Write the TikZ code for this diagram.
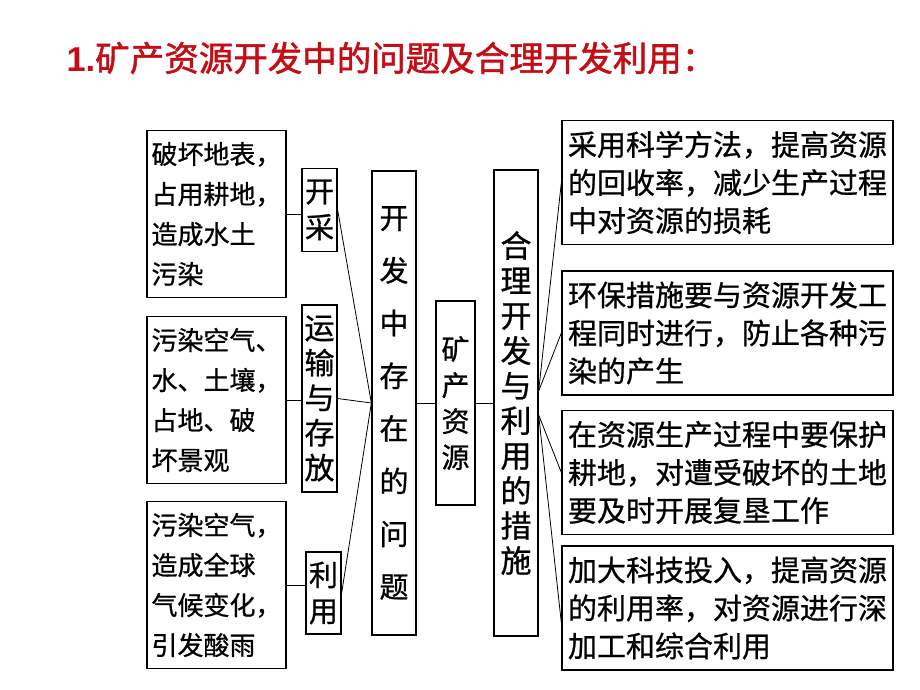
\documentclass[tikz,border=0pt]{standalone}
\usepackage{fontspec}
\usepackage{xcolor}
\setmainfont[FakeBold=0.8]{Noto Sans CJK SC}
\newfontfamily\titlefont[FakeBold=1.6]{Noto Sans CJK SC}
\newfontfamily\numfont{Liberation Sans}
\definecolor{titlered}{RGB}{196,14,22}
\usepackage{tikz}
\usetikzlibrary{positioning}

\begin{document}
\begin{tikzpicture}[x=1pt,y=-1pt]
		% Define styles for the blocks and lines
		\tikzstyle{block} = [rectangle, draw, line width=1.3pt, inner sep=0pt, align=left]
		\tikzstyle{harmbox} = [block, minimum width=139pt, minimum height=167pt, font=\fontsize{26}{40}\selectfont]
		\tikzstyle{stagebox} = [block, align=center, minimum width=35pt, font=\fontsize{29}{36}\selectfont]
		\tikzstyle{measurebox} = [block, minimum width=331pt, minimum height=124pt, font=\fontsize{29}{38}\selectfont]
		\tikzstyle{line} = [line width=0.8pt]
		
		\useasboundingbox (0,0) rectangle (920,690);
		
		% Title
		\node (title) [anchor=west, text=titlered, font=\fontsize{34.5}{40}\selectfont\titlefont] at (63,58) {{\numfont\bfseries 1.}矿产资源开发中的问题及合理开发利用：};
		
		% Define the nodes (blocks)
		\node (mineHarm) [harmbox] at (216.5,214) {破坏地表，\\占用耕地，\\造成水土\\污染};
		\node (transHarm) [harmbox] at (216.5,400) {污染空气、\\水、土壤，\\占地、破\\坏景观};
		\node (useHarm) [harmbox] at (216.5,585) {污染空气，\\造成全球\\气候变化，\\引发酸雨};
		
		\node (mining) [stagebox, minimum height=83pt] at (319.5,210) {开\\采};
		\node (transport) [stagebox, minimum height=187pt, font=\fontsize{30}{35}\selectfont] at (319.5,398.5) {运\\输\\与\\存\\放};
		\node (usage) [stagebox, minimum height=82pt] at (323.5,593) {利\\用};
		
		\node (problems) [block, align=center, minimum width=44pt, minimum height=464pt, font=\fontsize{29}{52.7}\selectfont] at (394,403) {开\\发\\中\\存\\在\\的\\问\\题};
		\node (resource) [block, align=center, minimum width=39pt, minimum height=204pt, font=\fontsize{28}{36}\selectfont] at (455.5,403) {矿\\产\\资\\源};
		\node (measures) [block, align=center, minimum width=44pt, minimum height=466pt, font=\fontsize{31}{35}\selectfont] at (516,403) {合\\理\\开\\发\\与\\利\\用\\的\\措\\施};
		
		\node (recycle) [measurebox] at (727.5,182.5) {采用科学方法，提高资源\\的回收率，减少生产过程\\中对资源的损耗};
		\node (protect) [measurebox] at (727.5,333) {环保措施要与资源开发工\\程同时进行，防止各种污\\染的产生};
		\node (farmland) [measurebox] at (727.5,472.5) {在资源生产过程中要保护\\耕地，对遭受破坏的土地\\要及时开展复垦工作};
		\node (technology) [measurebox] at (727.5,608) {加大科技投入，提高资源\\的利用率，对资源进行深\\加工和综合利用};
		
		% Draw lines between the blocks
		\draw [line] (mineHarm.east) -- (mineHarm.east -| mining.west);
		\draw [line] (transHarm.east) -- (transHarm.east -| transport.west);
		\draw [line] (useHarm.east) -- (useHarm.east -| usage.west);
		
		\draw [line] (mining.east) -- (problems.west);
		\draw [line] (transport.east) -- (problems.west);
		\draw [line] (usage.east) -- (problems.west);
		
		\draw [line] (problems) -- (resource);
		\draw [line] (resource) -- (measures);
		
		\draw [line] ([yshift=12pt]measures.east) -- (recycle.west);
		\draw [line] ([yshift=12pt]measures.east) -- (protect.west);
		\draw [line] ([yshift=-12pt]measures.east) -- (farmland.west);
		\draw [line] ([yshift=-12pt]measures.east) -- ([yshift=-15pt]technology.west);
	\end{tikzpicture}
\end{document}
